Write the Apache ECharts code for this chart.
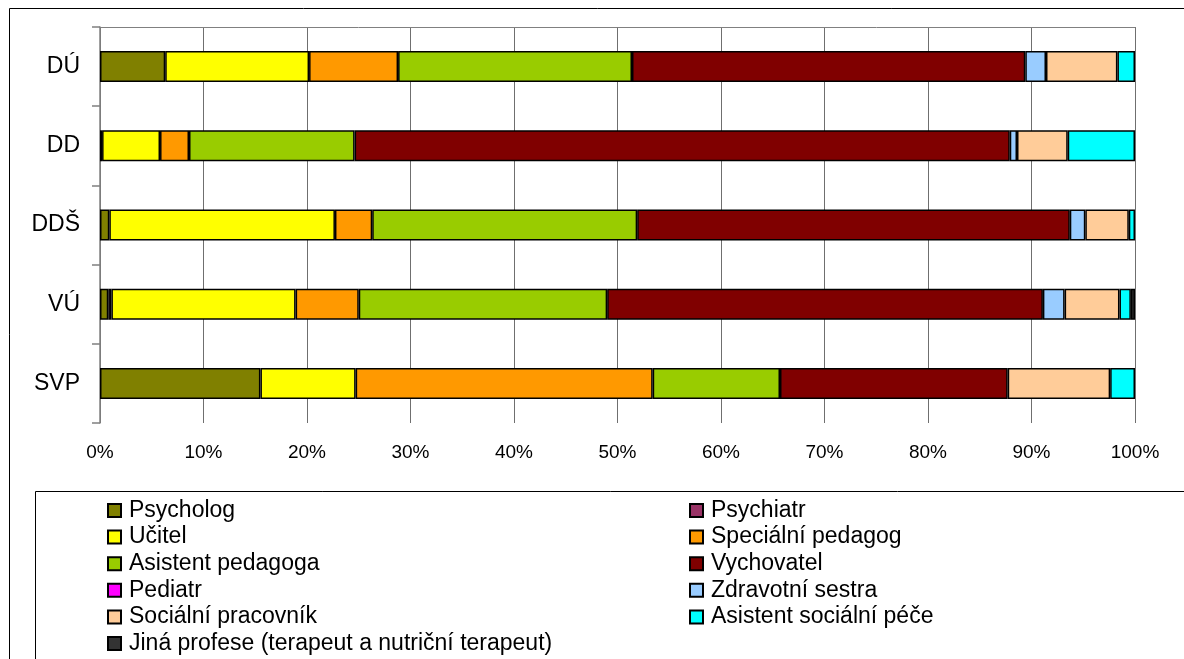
<!DOCTYPE html>
<html>
<head>
<meta charset="utf-8">
<script src="https://cdn.jsdelivr.net/npm/echarts@6/dist/echarts.min.js"></script>
<style>
  html, body { margin: 0; padding: 0; background: #fff; }
  #chart { width: 1184px; height: 659px; }
</style>
</head>
<body>
<div id="chart"></div>
<script>
// kategorie (shora dolů)
var categories = ['DÚ', 'DD', 'DDŠ', 'VÚ', 'SVP']
var xTicks = [0, 10, 20, 30, 40, 50, 60, 70, 80, 90, 100]

// podíly profesí v % pro DÚ, DD, DDŠ, VÚ, SVP
var psycholog = [6.3, 0.2, 0.9, 0.8, 15.5]
var psychiatr = [0, 0, 0, 0.3, 0]
var ucitel = [13.9, 5.6, 21.8, 17.8, 9.2]
var specialniPedagog = [8.6, 2.8, 3.6, 6.1, 28.7]
var asistentPedagoga = [22.6, 16.0, 25.6, 24.0, 12.3]
var vychovatel = [38.0, 63.3, 41.8, 42.1, 22.0]
var pediatr = [0, 0, 0, 0, 0]
var zdravotniSestra = [2.0, 0.7, 1.5, 2.1, 0]
var socialniPracovnik = [6.9, 4.9, 4.2, 5.3, 9.9]
var asistentSocialniPece = [1.7, 6.5, 0.6, 1.1, 2.4]
var jinaProfese = [0, 0, 0, 0.4, 0]

var seriesDefs = [
  { name: 'Psycholog', data: psycholog, color: '#808000' },
  { name: 'Psychiatr', data: psychiatr, color: '#993366' },
  { name: 'Učitel', data: ucitel, color: '#ffff00' },
  { name: 'Speciální pedagog', data: specialniPedagog, color: '#ff9900' },
  { name: 'Asistent pedagoga', data: asistentPedagoga, color: '#99cc00' },
  { name: 'Vychovatel', data: vychovatel, color: '#800000' },
  { name: 'Pediatr', data: pediatr, color: '#ff00ff' },
  { name: 'Zdravotní sestra', data: zdravotniSestra, color: '#99ccff' },
  { name: 'Sociální pracovník', data: socialniPracovnik, color: '#ffcc99' },
  { name: 'Asistent sociální péče', data: asistentSocialniPece, color: '#00ffff' },
  { name: 'Jiná profese (terapeut a nutriční terapeut)', data: jinaProfese, color: '#333333' }
]

var leftNames = ['Psycholog', 'Učitel', 'Asistent pedagoga', 'Pediatr', 'Sociální pracovník', 'Jiná profese (terapeut a nutriční terapeut)']
var rightNames = ['Psychiatr', 'Speciální pedagog', 'Vychovatel', 'Zdravotní sestra', 'Asistent sociální péče']

var font = "'Liberation Sans', Arial, sans-serif"

var legendText = { fontFamily: font, fontSize: 23, color: '#000', lineHeight: 22, padding: [0, 0, 0, 3] }

var option = {
  animation: false,
  backgroundColor: '#fff',
  grid: { left: 100, right: 49, top: 27, bottom: 236 },
  graphic: [
    { type: 'rect', shape: { x: 9.5, y: 8.5, width: 1300, height: 800 }, style: { fill: 'none', stroke: '#000', lineWidth: 1 }, silent: true },
    { type: 'rect', shape: { x: 35.5, y: 491.5, width: 1300, height: 300 }, style: { fill: 'none', stroke: '#000', lineWidth: 1 }, silent: true }
  ],
  legend: [
    {
      data: leftNames, orient: 'vertical', left: 102, top: 494, height: 200,
      icon: 'rect', itemWidth: 13, itemHeight: 13, itemGap: 3.6, textStyle: legendText,
      selectedMode: false
    },
    {
      data: rightNames, orient: 'vertical', left: 684, top: 494, height: 200,
      icon: 'rect', itemWidth: 13, itemHeight: 13, itemGap: 3.6, textStyle: legendText,
      selectedMode: false
    }
  ],
  xAxis: [
    {
      type: 'value', min: 0, max: 100, interval: 10,
      axisLine: { show: false },
      axisTick: { show: false },
      axisLabel: {
        formatter: '{value}%', margin: 20,
        fontFamily: font, fontSize: 19, color: '#000',
        customValues: xTicks
      },
      splitLine: { show: true, lineStyle: { color: '#6f6f6f', width: 1 } }
    },
    {
      type: 'value', min: 0, max: 100, position: 'top',
      axisLine: { show: true, lineStyle: { color: '#808080', width: 1 } },
      axisTick: { show: false },
      axisLabel: { show: false },
      splitLine: { show: false }
    }
  ],
  yAxis: {
    type: 'category', data: categories, inverse: true,
    axisLine: { show: true, lineStyle: { color: '#808080', width: 1.5 } },
    axisTick: { show: true, length: 8, lineStyle: { color: '#808080', width: 1.5 } },
    axisLabel: { margin: 20, fontFamily: font, fontSize: 23, color: '#000' }
  },
  series: seriesDefs.map(function(s) {
    return {
      name: s.name,
      type: 'bar',
      stack: 'total',
      barWidth: 31,
      xAxisIndex: 0,
      itemStyle: { color: s.color, borderColor: '#000', borderWidth: 1.5 },
      data: s.data.map(function(v) { return v === 0 ? '-' : v })
    }
  })
}

var chart = echarts.init(document.getElementById('chart'))
chart.setOption(option)
</script>
</body>
</html>
